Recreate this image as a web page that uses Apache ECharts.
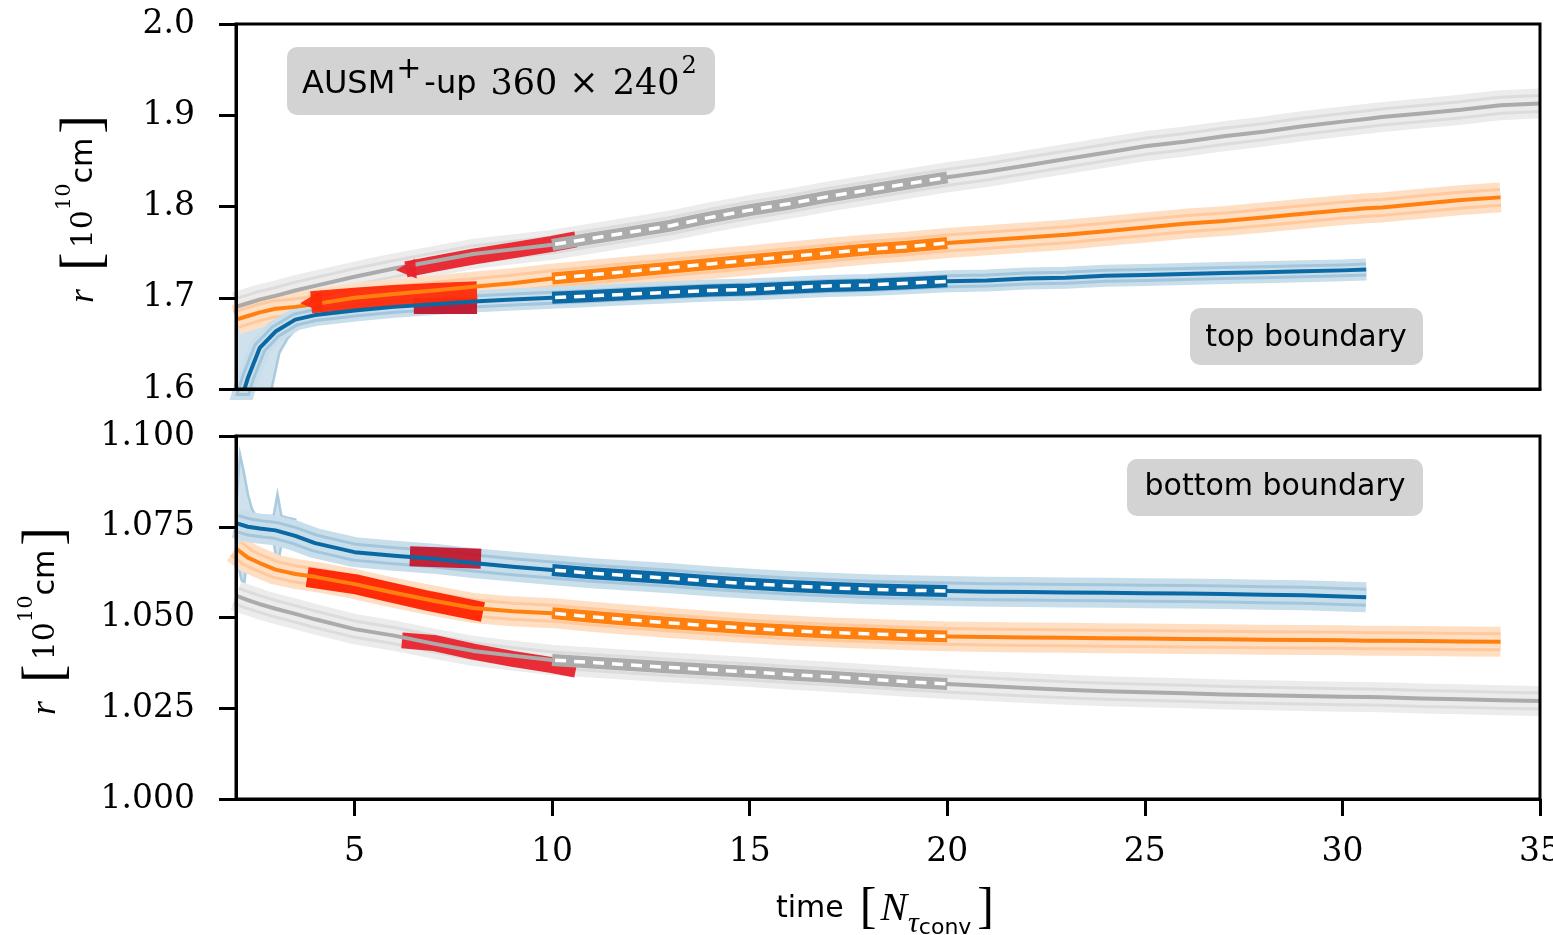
<!DOCTYPE html>
<html>
<head>
<meta charset="utf-8">
<script src="https://cdn.jsdelivr.net/npm/echarts@6/dist/echarts.min.js"></script>
<style>html,body{margin:0;padding:0;background:#fff}#chart{width:1553px;height:935px}</style>
</head>
<body>
<div id="chart"></div>
<script>
// time axis shared by every run [N_tau_conv]
let t = [2.0, 2.3, 2.6, 3.0, 3.5, 4, 5, 6, 7, 8, 9, 10, 11, 12, 13, 14, 15, 16, 17, 18, 19, 20,
	21, 22, 23, 24, 25, 26, 27, 28, 29, 30, 30.6, 31, 32, 33, 34, 35];

// top boundary radius [1e10 cm]
let topGray = [1.690, 1.694, 1.698, 1.702, 1.708, 1.713, 1.723, 1.732, 1.740, 1.748, 1.753, 1.758, 1.765, 1.772, 1.779, 1.788, 1.796, 1.803, 1.811, 1.818, 1.825, 1.832,
	1.838, 1.845, 1.852, 1.859, 1.866, 1.871, 1.877, 1.882, 1.888, 1.893, 1.896, 1.898, 1.902, 1.906, 1.911, 1.913];
let topOrange = [1.676, 1.680, 1.684, 1.688, 1.690, 1.693, 1.700, 1.704, 1.708, 1.712, 1.716, 1.721, 1.725, 1.729, 1.733, 1.737, 1.741, 1.745, 1.749, 1.753, 1.756, 1.760,
	1.763, 1.766, 1.769, 1.773, 1.777, 1.781, 1.784, 1.788, 1.792, 1.796, 1.798, 1.799, 1.803, 1.807, 1.810, null];
let topBlue = [1.570, 1.612, 1.645, 1.663, 1.676, 1.681, 1.686, 1.690, 1.693, 1.696, 1.698, 1.700, 1.702, 1.704, 1.706, 1.708, 1.709, 1.711, 1.713, 1.714, 1.716, 1.718,
	1.719, 1.721, 1.722, 1.724, 1.725, 1.726, 1.727, 1.728, 1.729, 1.730, 1.731, null, null, null, null, null];

// bottom boundary radius [1e10 cm]
let botGray = [1.0560, 1.0548, 1.0537, 1.0524, 1.0510, 1.0495, 1.0468, 1.0450, 1.0428, 1.0408, 1.0395, 1.0383, 1.0376, 1.0369, 1.0362, 1.0356, 1.0350, 1.0343, 1.0337, 1.0330, 1.0323, 1.0317,
	1.0311, 1.0306, 1.0301, 1.0297, 1.0294, 1.0291, 1.0288, 1.0286, 1.0284, 1.0282, 1.0281, 1.0280, 1.0277, 1.0275, 1.0272, 1.0270];
let botOrange = [1.0690, 1.0665, 1.0650, 1.0632, 1.0620, 1.0612, 1.0592, 1.0568, 1.0546, 1.0526, 1.0517, 1.0512, 1.0502, 1.0493, 1.0485, 1.0477, 1.0470, 1.0464, 1.0459, 1.0455, 1.0451, 1.0448,
	1.0446, 1.0445, 1.0444, 1.0443, 1.0442, 1.0441, 1.0440, 1.0439, 1.0438, 1.0437, 1.0436, 1.0436, 1.0435, 1.0434, 1.0433, null];
let botBlue = [1.0760, 1.0750, 1.0745, 1.0740, 1.0725, 1.0705, 1.0680, 1.0670, 1.0662, 1.0650, 1.0640, 1.0631, 1.0622, 1.0615, 1.0608, 1.0600, 1.0593, 1.0587, 1.0582, 1.0578, 1.0575, 1.0573,
	1.0571, 1.0570, 1.0569, 1.0568, 1.0567, 1.0566, 1.0565, 1.0563, 1.0561, 1.0558, 1.0556, null, null, null, null, null];

// early spread of the blue run (top) and its spikes (bottom)
let topBlueEarlyT = [2.0, 2.3, 2.6, 2.9, 3.1, 3.3, 3.5, 3.8];
let topBlueEarlyLo = [1.540, 1.560, 1.580, 1.600, 1.640, 1.655, 1.665, 1.670];
let topBlueEarlyHi = [1.670, 1.695, 1.712, 1.707, 1.695, 1.685, 1.686, 1.689];
let botBlueEarlyT = [2.0, 2.1, 2.2, 2.3, 2.4, 2.5, 2.6, 2.8, 2.95, 3.05, 3.15, 3.3, 3.5];
let botBlueEarlyLo = [1.0710, 1.0620, 1.0580, 1.0690, 1.0710, 1.0710, 1.0715, 1.0715, 1.0710, 1.0640, 1.0700, 1.0705, 1.0700];
let botBlueEarlyHi = [1.0800, 1.0950, 1.0900, 1.0840, 1.0800, 1.0780, 1.0780, 1.0780, 1.0780, 1.0840, 1.0780, 1.0775, 1.0770];

// red fit windows
let topGrayFitT = [6.3, 7, 8, 9, 10, 10.6];
let topGrayFitR = [1.731, 1.737, 1.745, 1.752, 1.759, 1.764];
let topOrangeFitT = [3.9, 5, 6, 7, 8.1];
let topOrangeFitR = [1.695, 1.699, 1.702, 1.704, 1.706];
let topBlueFitT = [6.5, 8.1];
let topBlueFitR = [1.691, 1.691];
let botGrayFitT = [6.2, 7, 8, 9, 10, 10.6];
let botGrayFitR = [1.0437, 1.0430, 1.0406, 1.0386, 1.0369, 1.0356];
let botOrangeFitT = [3.8, 5, 5.65, 6.9, 8.25];
let botOrangeFitR = [1.0611, 1.0592, 1.0576, 1.0545, 1.0515];
let botBlueFitT = [6.4, 8.2];
let botBlueFitR = [1.0669, 1.0662];

// averaging window shown dashed
let avgFrom = 10, avgTo = 20;
let xTicks = [5, 10, 15, 20, 25, 30, 35];

let pal = {
	gray: { line: '#ababab', light: '#ececec', stripe: '#dcdcdc' },
	orange: { line: '#ff800e', light: '#ffdfc4', stripe: '#ffc99d' },
	blue: { line: '#0a69a4', light: '#c9deeb', stripe: '#a3c6dc' }
};

function pts(xs, ys, a, b) {
	return xs.map((x, i) => [x, ys[i]])
		.filter(p => p[1] != null && (a == null || (p[0] >= a && p[0] <= b)));
}

function ln(ax, data, color, width, extra) {
	let s = {
		type: 'line', xAxisIndex: ax, yAxisIndex: ax, data: data, symbol: 'none', silent: true,
		lineStyle: { color: color, width: width, cap: 'butt', join: 'round' }
	};
	if (extra) Object.assign(s.lineStyle, extra);
	return s;
}

// closed spread polygon, corners placed through the axes
function spread(ax, xs, lo, hi) {
	let ring = pts(xs, hi).concat(pts(xs, lo).reverse());
	return {
		type: 'custom', xAxisIndex: ax, yAxisIndex: ax, silent: true, clip: true, data: ring,
		renderItem: (params, api) => {
			if (params.dataIndex !== 0) return null;
			return {
				type: 'polygon',
				shape: { points: ring.map(p => api.coord(p)) },
				style: { fill: pal.blue.light, stroke: pal.blue.stripe, lineWidth: 2.5, opacity: 0.9 }
			};
		}
	};
}

let panels = [
	{ ax: 0, runs: { gray: topGray, orange: topOrange, blue: topBlue }, bw: { gray: 30, orange: 30, blue: 22 } },
	{ ax: 1, runs: { gray: botGray, orange: botOrange, blue: botBlue }, bw: { gray: 30, orange: 30, blue: 30 } }
];
let order = ['gray', 'orange', 'blue'];
let series = [];

// shaded spread around each run
panels.forEach(p => {
	order.forEach(c => {
		let d = pts(t, p.runs[c]);
		let w = p.bw[c];
		series.push(ln(p.ax, d, pal[c].light, w));
		series.push(ln(p.ax, d, pal[c].stripe, Math.round(w * 0.62)));
		series.push(ln(p.ax, d, pal[c].light, Math.round(w * 0.62) - 6));
	});
});

// irregular early spread of the blue run
series.push(spread(0, topBlueEarlyT, topBlueEarlyLo, topBlueEarlyHi));
series.push(spread(1, botBlueEarlyT, botBlueEarlyLo, botBlueEarlyHi));

// red fit windows, some with a pointed start
[
	[0, topBlueFitT, topBlueFitR, '#c0142c', 16, 0],
	[0, topOrangeFitT, topOrangeFitR, '#ff2a08', 22, 22],
	[0, topGrayFitT, topGrayFitR, '#e8232c', 16, 20],
	[1, botBlueFitT, botBlueFitR, '#c2182d', 20, 0],
	[1, botOrangeFitT, botOrangeFitR, '#ff2200', 20, 0],
	[1, botGrayFitT, botGrayFitR, '#e8232c', 16, 0]
].forEach(f => {
	let s = ln(f[0], pts(f[1], f[2]), f[3], f[4], { opacity: 0.95 });
	if (f[5]) {
		s.symbol = 'triangle';
		s.showSymbol = true;
		s.symbolRotate = 95;
		s.symbolSize = (v, params) => params.dataIndex === 0 ? f[5] : 0;
		s.itemStyle = { color: f[3], opacity: 0.95 };
	}
	series.push(s);
});

// main lines
panels.forEach(p => order.forEach(c => series.push(ln(p.ax, pts(t, p.runs[c]), pal[c].line, 4))));

// averaging window: thick line with white dashes
panels.forEach(p => order.forEach(c => {
	let d = pts(t, p.runs[c], avgFrom, avgTo);
	series.push(ln(p.ax, d, pal[c].line, 12));
	series.push(ln(p.ax, d, '#ffffff', 3.5, { type: [11, 8], dashOffset: 16 }));
}));

let serif = 'DejaVu Serif';
let sans = 'DejaVu Sans';
let black = '#000';

function xAx(grid, labels) {
	return {
		gridIndex: grid, type: 'value', min: 2, max: 35, z: 10,
		axisLine: { show: true, lineStyle: { color: black, width: 3 } },
		axisTick: { show: labels, length: 17, lineStyle: { color: black, width: 3 }, customValues: xTicks },
		axisLabel: { show: labels, customValues: xTicks, fontFamily: serif, fontSize: 33, color: black, margin: 37 },
		splitLine: { show: false }
	};
}
function yAx(grid, min, max, step, digits) {
	return {
		gridIndex: grid, type: 'value', min: min, max: max, interval: step, z: 10,
		axisLine: { show: true, lineStyle: { color: black, width: 3 } },
		axisTick: { show: true, length: 17, lineStyle: { color: black, width: 3 } },
		axisLabel: { formatter: v => v.toFixed(digits), fontFamily: serif, fontSize: 33, color: black, margin: 41 },
		splitLine: { show: false }
	};
}

let base = { lineHeight: 60, verticalAlign: 'middle' };
let yNameRich = {
	ri: Object.assign({ fontFamily: 'Liberation Serif', fontStyle: 'italic', fontSize: 36, padding: [0, 18, 0, 0] }, base),
	lb: Object.assign({ fontFamily: 'Liberation Serif', fontSize: 56, padding: [0, 4, 0, 0] }, base),
	rb: Object.assign({ fontFamily: 'Liberation Serif', fontSize: 56, padding: [0, 0, 0, 4] }, base),
	n: Object.assign({ fontFamily: serif, fontSize: 30 }, base),
	sup: { fontFamily: serif, fontSize: 21, lineHeight: 28, verticalAlign: 'top' },
	s: Object.assign({ fontFamily: sans, fontSize: 30 }, base)
};
let yName = '{ri|r}{lb|[}{n|10}{sup|10}{s|cm}{rb|]}';

let option = {
	animation: false,
	backgroundColor: '#fff',
	grid: [
		{ left: 236, right: 13, top: 24, height: 365, outerBoundsMode: 'none', containLabel: false },
		{ left: 236, right: 13, top: 436, height: 363, outerBoundsMode: 'none', containLabel: false }
	],
	xAxis: [xAx(0, false), xAx(1, true)],
	yAxis: [yAx(0, 1.6, 2.0, 0.1, 1), yAx(1, 1.0, 1.1, 0.025, 3)],
	series: series,
	graphic: [
		{ type: 'rect', z: 100, shape: { x: 236, y: 24, width: 1304, height: 365 }, style: { fill: 'none', stroke: black, lineWidth: 3 } },
		{ type: 'rect', z: 100, shape: { x: 236, y: 436, width: 1304, height: 363 }, style: { fill: 'none', stroke: black, lineWidth: 3 } },
		{ type: 'rect', z: 100, shape: { x: 287, y: 47, width: 428, height: 68, r: 10 }, style: { fill: '#d3d3d3' } },
		{
			type: 'text', z: 101, x: 302, y: 55,
			style: {
				text: '{s|AUSM}{sup|+}{s|-up}{n|360}{op|×}{n|240}{nsup|2}',
				align: 'left', verticalAlign: 'top', fill: black,
				rich: {
					s: Object.assign({ fontFamily: sans, fontSize: 32 }, base),
					sup: { fontFamily: sans, fontSize: 30, lineHeight: 20, verticalAlign: 'top', padding: [0, 3, 0, 1] },
					n: Object.assign({ fontFamily: serif, fontSize: 35, padding: [0, 0, 0, 14] }, base),
					op: Object.assign({ fontFamily: serif, fontSize: 35, padding: [0, 0, 0, 12] }, base),
					nsup: { fontFamily: serif, fontSize: 24, lineHeight: 30, verticalAlign: 'top', padding: [0, 0, 0, 2] }
				}
			}
		},
		{ type: 'rect', z: 100, shape: { x: 1190, y: 308, width: 233, height: 57, r: 10 }, style: { fill: '#d3d3d3' } },
		{ type: 'text', z: 101, x: 1306, y: 338, style: { text: 'top boundary', font: '30px "DejaVu Sans"', fill: black, align: 'center', verticalAlign: 'middle' } },
		{ type: 'rect', z: 100, shape: { x: 1127, y: 459, width: 296, height: 57, r: 10 }, style: { fill: '#d3d3d3' } },
		{ type: 'text', z: 101, x: 1275, y: 487, style: { text: 'bottom boundary', font: '30px "DejaVu Sans"', fill: black, align: 'center', verticalAlign: 'middle' } },
		{
			type: 'text', z: 101, x: 776, y: 909,
			style: {
				text: '{s|time}{lb|[}{i|N}{tau|τ}{c|conv}{rb|]}',
				align: 'left', verticalAlign: 'middle', fill: black,
				rich: {
					s: Object.assign({ fontFamily: sans, fontSize: 30, padding: [0, 16, 0, 0] }, base),
					lb: Object.assign({ fontFamily: 'Liberation Serif', fontSize: 50, padding: [0, 4, 0, 0] }, base),
					rb: Object.assign({ fontFamily: 'Liberation Serif', fontSize: 50, padding: [0, 0, 0, 6] }, base),
					i: Object.assign({ fontFamily: 'Liberation Serif', fontStyle: 'italic', fontSize: 40, padding: [0, 1, 0, 0] }, base),
					tau: { fontFamily: 'Liberation Serif', fontStyle: 'italic', fontSize: 30, lineHeight: 46, verticalAlign: 'bottom' },
					c: { fontFamily: sans, fontSize: 22, lineHeight: 32, verticalAlign: 'bottom' }
				}
			}
		},
		{ type: 'text', z: 101, x: 84, y: 209, rotation: Math.PI / 2, style: { text: yName, rich: yNameRich, align: 'center', verticalAlign: 'middle', fill: black } },
		{ type: 'text', z: 101, x: 46, y: 621, rotation: Math.PI / 2, style: { text: yName, rich: yNameRich, align: 'center', verticalAlign: 'middle', fill: black } }
	]
};

let chart = echarts.init(document.getElementById('chart'));
chart.setOption(option);
</script>
</body>
</html>
